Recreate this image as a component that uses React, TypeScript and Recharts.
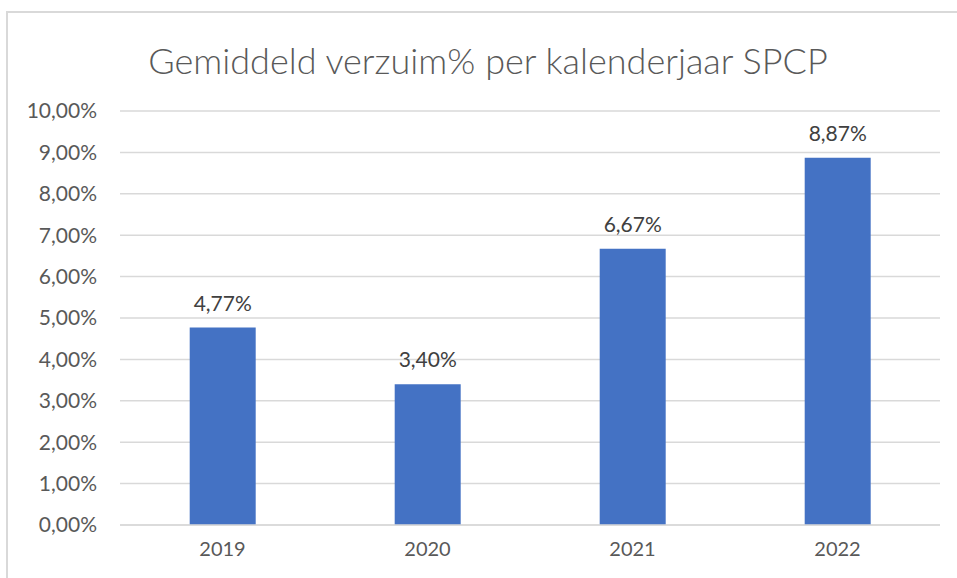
import { BarChart, Bar, XAxis, YAxis, CartesianGrid, LabelList } from "recharts";

const years = ["2019", "2020", "2021", "2022"];
const verzuim = [4.77, 3.4, 6.67, 8.87];
const yTicks = [0, 1, 2, 3, 4, 5, 6, 7, 8, 9, 10];

const data = years.map((year, i) => ({ year, verzuim: verzuim[i] }));

const fmt = (v: number) => v.toFixed(2).replace(".", ",") + "%";

const font = "Lato, 'Open Sans', sans-serif";

const App = () => {
  return (
    <div style={{ position: "absolute", left: 0, top: 0, width: 957, height: 578, background: "#fff", overflow: "hidden" }}>
      <div
        style={{
          position: "absolute",
          left: 6,
          top: 11,
          width: 980,
          height: 600,
          borderTop: "2px solid #d9d9d9",
          borderLeft: "2px solid #d9d9d9",
        }}
      />
      <div
        style={{
          position: "absolute",
          left: 0,
          width: 976,
          top: 38,
          textAlign: "center",
          fontFamily: font,
          fontWeight: 300,
          fontSize: 36,
          color: "#595959",
          lineHeight: "44px",
        }}
      >
        Gemiddeld verzuim% per kalenderjaar SPCP
      </div>
      <div style={{ position: "absolute", left: 0, top: 0 }}>
        <BarChart
          width={957}
          height={578}
          data={data}
          margin={{ top: 111, right: 17, bottom: 23, left: 0 }}
          barCategoryGap="34%"
        >
          <CartesianGrid vertical={false} stroke="#d9d9d9" strokeWidth={1.5} />
          <XAxis
            dataKey="year"
            height={30}
            axisLine={{ stroke: "#d9d9d9", strokeWidth: 1.5 }}
            tickLine={false}
            tickMargin={11}
            tick={{ fill: "#595959", fontSize: 20, fontFamily: font }}
          />
          <YAxis
            width={120}
            domain={[0, 10]}
            ticks={yTicks}
            tickFormatter={fmt}
            axisLine={false}
            tickLine={false}
            tickMargin={17}
            tick={{ fill: "#595959", fontSize: 21, fontFamily: font }}
          />
          <Bar dataKey="verzuim" fill="#4472c4" isAnimationActive={false}>
            <LabelList
              dataKey="verzuim"
              position="top"
              offset={17}
              formatter={(v: any) => fmt(Number(v))}
              style={{ fill: "#404040", fontSize: 21, fontFamily: font }}
            />
          </Bar>
        </BarChart>
      </div>
    </div>
  );
};

export default App;
